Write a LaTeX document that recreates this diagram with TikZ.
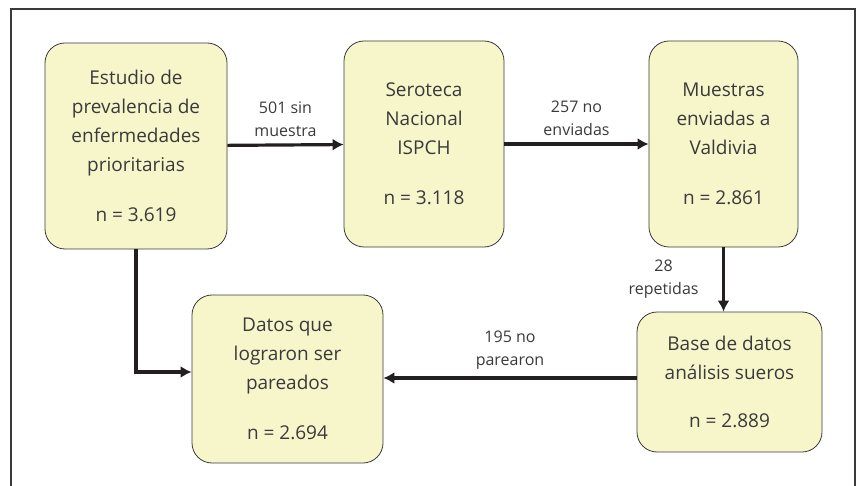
\documentclass[tikz,border=0pt]{standalone}
\usepackage{fontspec}
\setmainfont{Open Sans}
\usetikzlibrary{arrows.meta,calc}
\definecolor{boxfill}{HTML}{F7F6CB}
\definecolor{inkgray}{HTML}{3A3A3A}
\definecolor{arrowink}{HTML}{231F20}

\begin{document}
\begin{tikzpicture}[x=1pt,y=-1pt,
	box/.style={draw=inkgray, line width=0.8pt, fill=boxfill, rounded corners=20pt,
		align=center, text=inkgray, inner sep=0pt,
		font=\fontsize{19}{29}\selectfont},
	flow/.style={draw=arrowink, line width=3.2pt, -{Latex[length=11pt,width=12pt]}},
	lbl/.style={align=center, text=inkgray, font=\fontsize{16}{23}\selectfont}]
	\useasboundingbox (0,0) rectangle (859,486);
	\draw[line width=1.8pt, inkgray] (11,490) -- (11,9) -- (855,9) -- (855,490);
	% boxes
	\node[box, minimum width=182pt, minimum height=206pt] (estudio) at (136,146)
		{Estudio de\\prevalencia de\\enfermedades\\prioritarias\\[21pt]n = 3.619};
	\node[box, minimum width=160pt, minimum height=206pt] (serot) at (424,144)
		{Seroteca\\Nacional\\ISPCH\\[21pt]n = 3.118};
	\node[box, minimum width=149pt, minimum height=206pt] (muestras) at (723.5,144)
		{Muestras\\enviadas a\\Valdivia\\[21pt]n = 2.861};
	\node[box, minimum width=185pt, minimum height=140pt] (base) at (729.5,382)
		{Base de datos\\análisis sueros\\[19pt]n = 2.889};
	\node[box, minimum width=191pt, minimum height=168pt] (datos) at (287.5,379)
		{Datos que\\lograron ser\\pareados\\[21pt]n = 2.694};
	% arrows
	\path
	(estudio) edge[flow] node[lbl, above=3pt] {501 sin\\muestra} (serot)
	(serot) edge[flow] node[lbl, above=3pt] {257 no\\enviadas} (muestras)
	(muestras.south) edge[flow] node[lbl, left=20pt] {28\\repetidas} (muestras.south |- base.north)
	([yshift=4pt]base.west) edge[flow] node[lbl, above=4pt] {195 no\\parearon} ([yshift=4pt]base.west -| datos.east);
	\draw[flow] (estudio.south) |- ([yshift=7pt]datos.west);
\end{tikzpicture}
\end{document}
